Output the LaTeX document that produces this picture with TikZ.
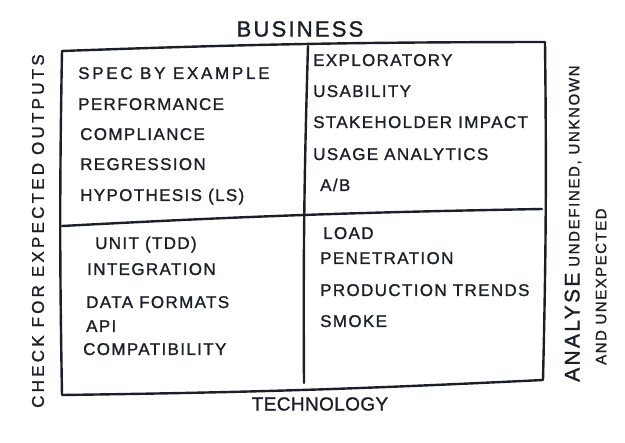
\documentclass[tikz,border=0pt]{standalone}
\usepackage{fontspec}
\setmainfont{Liberation Sans}[FakeBold=1.2]
\definecolor{ink}{HTML}{1B1F2A}
\tikzset{
  qtext/.style={anchor=west, inner sep=0pt, text height=12pt, text depth=0pt, text=ink,
    font=\fontsize{17}{19}\selectfont\addfontfeatures{LetterSpace=8}},
  edge/.style={draw=ink, line width=2.4pt, line cap=round, line join=round},
  sidetext/.style={inner sep=0pt, text=ink, rotate=90, anchor=west},
}
\begin{document}
\begin{tikzpicture}[x=1pt,y=-1pt]
\useasboundingbox (0,0) rectangle (625,443);
% corners
\coordinate (tl) at (62,51);
\coordinate (tr) at (545,42);
\coordinate (br) at (543,380);
\coordinate (bl) at (62,395);
\coordinate (vt) at (308,46);
\coordinate (vb) at (304,383);
\coordinate (hl) at (62,226);
\coordinate (hr) at (542,209);
\draw[edge] (tl) to[bend left=1] (tr) to[bend left=1] (br) to[bend left=1] (bl) to[bend left=1] cycle;
\draw[edge] (vt) to[bend right=1] (vb);
\draw[edge] (hl) to[bend left=1] (hr);
% titles
\node[inner sep=0pt, text=ink, font=\fontsize{22}{24}\selectfont\addfontfeatures{LetterSpace=10}] (bus) at (300,29) {BUSINESS};
\node[inner sep=0pt, text=ink, font=\fontsize{19}{21}\selectfont\addfontfeatures{LetterSpace=2}] (tech) at (320,404) {TECHNOLOGY};
\node[sidetext, font=\fontsize{17}{19}\selectfont\addfontfeatures{LetterSpace=19}] (check) at (38,408) {CHECK FOR EXPECTED OUTPUTS};
\node[sidetext, font=\fontsize{15}{17}\selectfont\addfontfeatures{LetterSpace=11}] (an1) at (573,382) {{\fontsize{21}{22}\selectfont ANALYSE} UNDEFINED, UNKNOWN};
\node[sidetext, font=\fontsize{15}{17}\selectfont\addfontfeatures{LetterSpace=10}] (an2) at (601,365) {AND UNEXPECTED};
% top left
\node[qtext] (t1) at (78,73) {\addfontfeatures{LetterSpace=16}SPEC BY EXAMPLE};
\node[qtext] (t2) at (78,104) {PERFORMANCE};
\node[qtext] (t3) at (80,134) {COMPLIANCE};
\node[qtext] (t4) at (80,164) {REGRESSION};
\node[qtext] (t5) at (80,195) {HYPOTHESIS (LS)};
% top right
\node[qtext] (r1) at (313,60) {EXPLORATORY};
\node[qtext] (r2) at (313,91) {USABILITY};
\node[qtext] (r3) at (313,122) {STAKEHOLDER IMPACT};
\node[qtext] (r4) at (313,154) {USAGE ANALYTICS};
\node[qtext] (r5) at (320,185) {A/B};
% bottom left
\node[qtext] (b1) at (95,243) {UNIT (TDD)};
\node[qtext] (b2) at (87,269) {INTEGRATION};
\node[qtext] (b3) at (86,302) {DATA FORMATS};
\node[qtext] (b4) at (86,326) {API};
\node[qtext] (b5) at (83,349) {COMPATIBILITY};
% bottom right
\node[qtext] (s1) at (323,233) {LOAD};
\node[qtext] (s2) at (320,258) {PENETRATION};
\node[qtext] (s3) at (320,290) {PRODUCTION TRENDS};
\node[qtext] (s4) at (320,321) {SMOKE};
\end{tikzpicture}
\end{document}
